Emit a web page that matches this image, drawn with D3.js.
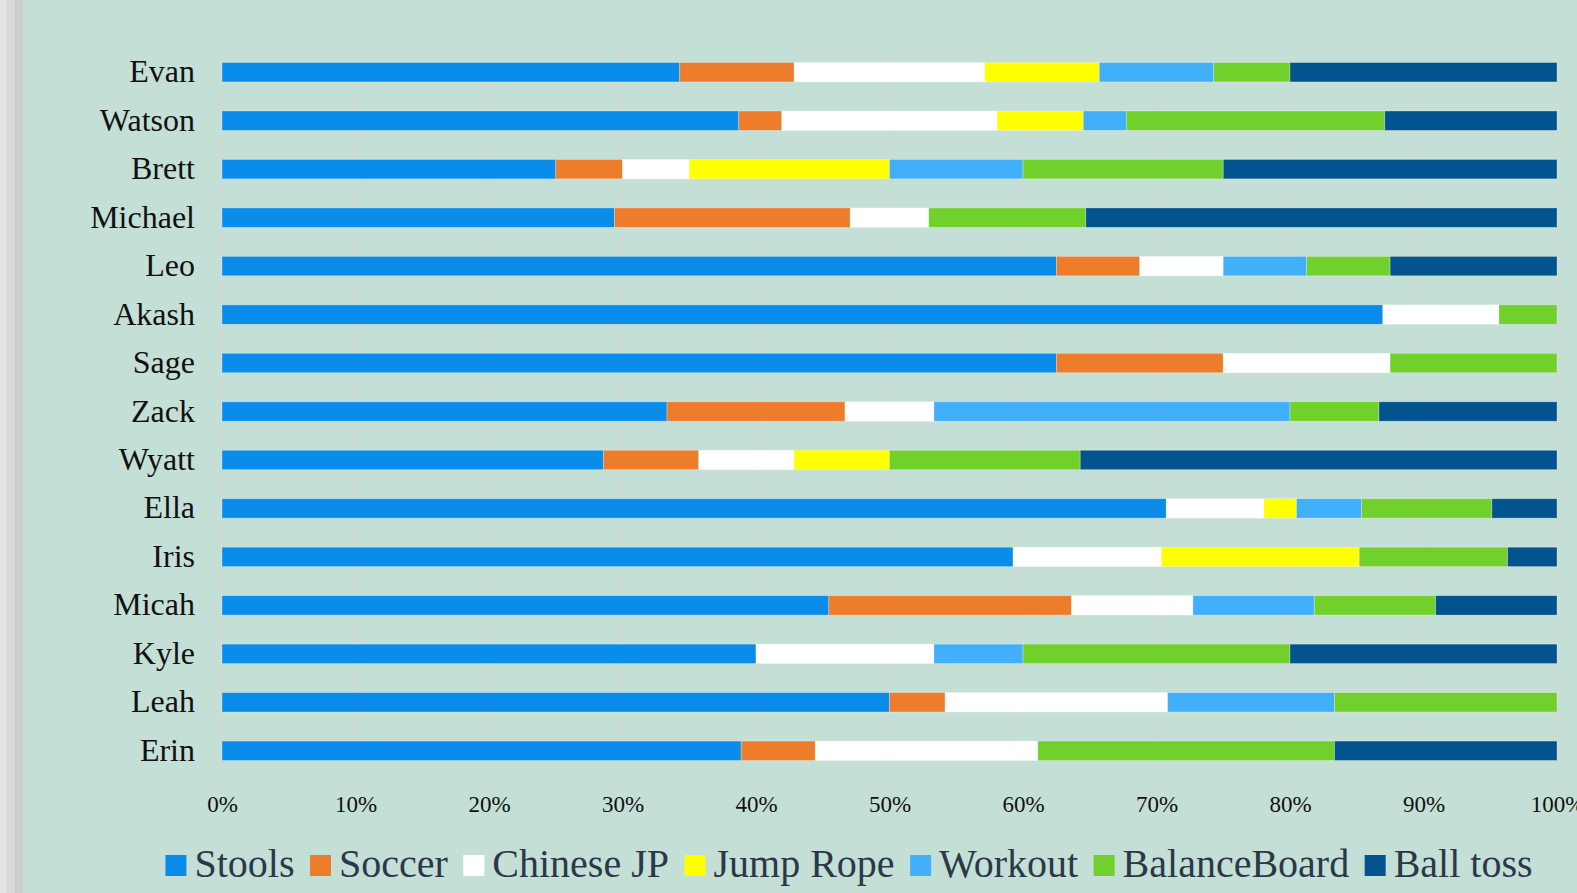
<!DOCTYPE html>
<html>
<head>
<meta charset="utf-8">
<script src="https://cdn.jsdelivr.net/npm/d3@7"></script>
<style>
  html, body { margin: 0; padding: 0; background: #C4DFD6; }
  svg { display: block; }
</style>
</head>
<body>
<svg id="chart" width="1577" height="893"></svg>
<script>
// ---- Data (counts per activity; chart shows share of each row) ----
const categories = ["Evan","Watson","Brett","Michael","Leo","Akash","Sage","Zack","Wyatt","Ella","Iris","Micah","Kyle","Leah","Erin"];
const seriesNames = ["Stools","Soccer","Chinese JP","Jump Rope","Workout","BalanceBoard","Ball toss"];
const stools       = [12,12,5,5,10,20,5,5,4,29,16,5,6,12,7];
const soccer       = [3,1,1,3,1,0,1,2,1,0,0,2,0,1,1];
const chineseJP    = [5,5,1,1,1,2,1,1,1,3,3,1,2,4,3];
const jumpRope     = [3,2,3,0,0,0,0,0,1,1,4,0,0,0,0];
const workout      = [3,1,2,0,1,0,0,4,0,2,0,1,1,3,0];
const balanceBoard = [2,6,3,2,1,1,1,1,2,4,3,1,3,4,4];
const ballToss     = [7,4,5,6,2,0,0,2,5,2,1,1,3,0,3];
const tickValues   = [0,0.1,0.2,0.3,0.4,0.5,0.6,0.7,0.8,0.9,1.0];
const colors       = ["#0A8CEA","#ED7D2B","#FFFFFF","#FFFF00","#42AFFB","#72D02C","#02538E"];

(function () {
const seriesValues = [stools, soccer, chineseJP, jumpRope, workout, balanceBoard, ballToss];
const table = categories.map((c, i) => {
  const row = { name: c };
  seriesNames.forEach((s, j) => { row[s] = seriesValues[j][i]; });
  return row;
});

const svg = d3.select("#chart");
const W = 1577, H = 893;

// background + left strip
svg.append("rect").attr("x", 0).attr("y", 0).attr("width", W).attr("height", H).attr("fill", "#C4DFD6");
svg.append("rect").attr("x", 0).attr("y", 0).attr("width", 6).attr("height", H).attr("fill", "#E4E4E4");
svg.append("rect").attr("x", 6).attr("y", 0).attr("width", 9).attr("height", H).attr("fill", "#DADADA");
svg.append("rect").attr("x", 15).attr("y", 0).attr("width", 8).attr("height", H).attr("fill", "#CDCDCD");

const mLeft = 222, mRight = 1557, mTop = 48, mBottom = 775;

const x = d3.scaleLinear().domain([0, 1]).range([mLeft, mRight]);
const y = d3.scaleBand().domain(categories).range([mTop, mBottom]).paddingInner(0.6).paddingOuter(0.3);

// gridlines
svg.append("g").selectAll("line").data(tickValues).join("line")
  .attr("x1", d => x(d)).attr("x2", d => x(d))
  .attr("y1", mTop).attr("y2", mBottom)
  .attr("stroke", "#D6D6D6").attr("stroke-width", 1.3);

// stacked bars
const stack = d3.stack().keys(seriesNames).offset(d3.stackOffsetExpand);
const stacked = stack(table);

const color = d3.scaleOrdinal().domain(seriesNames).range(colors);

svg.append("g").selectAll("g").data(stacked).join("g")
  .attr("fill", d => color(d.key))
  .selectAll("rect").data(d => d.filter(p => p[1] - p[0] > 0)).join("rect")
  .attr("x", d => x(d[0]))
  .attr("y", d => y(d.data.name))
  .attr("width", d => x(d[1]) - x(d[0]))
  .attr("height", y.bandwidth())
  .attr("stroke", "rgba(255,255,255,0.35)")
  .attr("stroke-width", 0.8);

// category labels
svg.append("g").selectAll("text").data(categories).join("text")
  .attr("x", 195)
  .attr("y", d => y(d) + y.bandwidth() / 2 + 10)
  .attr("text-anchor", "end")
  .attr("font-family", "'Liberation Serif', 'Times New Roman', serif")
  .attr("font-size", 32)
  .attr("fill", "#111111")
  .text(d => d);

// x axis labels
const xAxis = d3.axisBottom(x).tickValues(tickValues).tickFormat(d3.format(".0%")).tickSize(0).tickPadding(0);
const ax = svg.append("g").attr("transform", "translate(0, 796)").call(xAxis);
ax.select(".domain").remove();
ax.selectAll("text")
  .attr("font-family", "'Liberation Serif', 'Times New Roman', serif")
  .attr("font-size", 23)
  .attr("fill", "#111111")
  .attr("dy", "0.71em");

// legend
const legend = svg.append("g");
const items = legend.selectAll("g").data(seriesNames).join("g");
items.append("rect").attr("width", 21).attr("height", 21).attr("y", 855).attr("fill", d => color(d));
items.append("text")
  .attr("x", 29).attr("y", 877)
  .attr("font-family", "'Liberation Serif', 'Times New Roman', serif")
  .attr("font-size", 40)
  .attr("fill", "#2B384A")
  .text(d => d);
const gap = 15.5;
let cx = 0;
const pos = [];
items.each(function() {
  const w = d3.select(this).select("text").node().getComputedTextLength();
  pos.push(cx);
  cx += 29 + w + gap;
});
const totalW = cx - gap;
const startX = 849 - totalW / 2;
items.attr("transform", (d, i) => `translate(${startX + pos[i]}, 0)`);
})();
</script>
</body>
</html>
